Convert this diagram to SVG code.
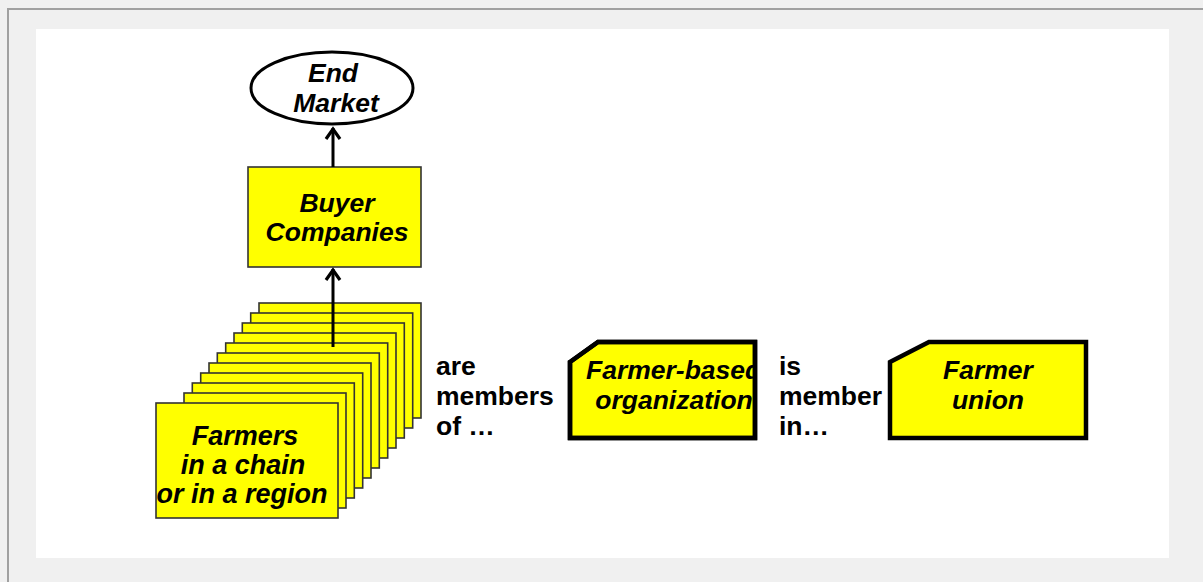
<svg xmlns="http://www.w3.org/2000/svg" width="1203" height="582" viewBox="0 0 1203 582">
<defs>
<style>
.t{font-family:"Liberation Sans",Arial,sans-serif;font-weight:bold;font-size:26.5px;fill:#000}
.i{font-style:italic}
.card{fill:#ffff00;stroke:#333;stroke-width:1.6}
.org{fill:#ffff00;stroke:#000;stroke-width:4.5;stroke-linejoin:miter}
.conn{stroke:#000;stroke-width:3;fill:none}
</style>
<marker id="ah" viewBox="0 0 16 18" refX="14" refY="9" markerWidth="16" markerHeight="18" markerUnits="userSpaceOnUse" orient="auto">
<path d="M3,2 L13,9 L3,16" fill="none" stroke="#000" stroke-width="3.2"/>
</marker>
<clipPath id="fboClip"><path d="M570,362 L598,342 L755,342 L755,438 L570,438 Z"/></clipPath>
</defs>
<rect x="0" y="0" width="1203" height="582" fill="#f0f0f0"/>
<line x1="7" y1="9" x2="1203" y2="9" stroke="#a0a0a0" stroke-width="2"/>
<line x1="8" y1="8" x2="8" y2="582" stroke="#a0a0a0" stroke-width="2"/>
<rect x="36" y="29" width="1133" height="529" fill="#fff"/>

<g id="farmers">
<rect class="card" x="259" y="303" width="162" height="115"/>
<rect class="card" x="250.7" y="313" width="162" height="115"/>
<rect class="card" x="242.3" y="323" width="162" height="115"/>
<rect class="card" x="234" y="333" width="162" height="115"/>
<rect class="card" x="225.7" y="343" width="162" height="115"/>
<rect class="card" x="217.3" y="353" width="162" height="115"/>
<rect class="card" x="209" y="363" width="162" height="115"/>
<rect class="card" x="200.7" y="373" width="162" height="115"/>
<rect class="card" x="192.3" y="383" width="162" height="115"/>
<rect class="card" x="184" y="393" width="162" height="115"/>
<rect class="card" x="156" y="403" width="182" height="115"/>
<text class="t i" text-anchor="middle" x="245" y="445" style="font-size:27px">Farmers</text>
<text class="t i" text-anchor="middle" x="243" y="474" style="font-size:27px">in a chain</text>
<text class="t i" text-anchor="middle" x="242" y="503" style="font-size:27px">or in a region</text>
</g>

<g id="buyer">
<rect class="card" x="248" y="167" width="173" height="100"/>
<text class="t i" text-anchor="middle" x="337" y="212">Buyer</text>
<text class="t i" text-anchor="middle" x="337" y="241">Companies</text>
</g>

<g id="endmarket">
<ellipse cx="332" cy="88" rx="81" ry="36" fill="#fff" stroke="#000" stroke-width="3"/>
<text class="t i" text-anchor="middle" x="333" y="82">End</text>
<text class="t i" text-anchor="middle" x="336" y="112">Market</text>
</g>

<g id="connectors">
<line class="conn" x1="333" y1="347" x2="333" y2="269" marker-end="url(#ah)"/>
<line class="conn" x1="333" y1="167" x2="333" y2="128" marker-end="url(#ah)"/>
</g>

<g id="label-members">
<text class="t" x="436" y="375">are</text>
<text class="t" x="436" y="405">members</text>
<text class="t" x="436" y="435">of …</text>
</g>

<g id="fbo">
<path class="org" d="M570,362 L598,342 L755,342 L755,438 L570,438 Z"/>
<g clip-path="url(#fboClip)">
<text class="t i" x="586" y="379">Farmer-based</text>
<text class="t i" text-anchor="middle" x="674" y="409">organization</text>
</g>
<path d="M570,362 L598,342 L755,342 L755,438 L570,438 Z" fill="none" stroke="#000" stroke-width="4.5"/>
</g>

<g id="label-member-in">
<text class="t" x="779" y="375">is</text>
<text class="t" x="779" y="405">member</text>
<text class="t" x="779" y="435">in…</text>
</g>

<g id="union">
<path class="org" d="M890,362 L929,342 L1086,342 L1086,438 L890,438 Z"/>
<text class="t i" text-anchor="middle" x="988" y="379">Farmer</text>
<text class="t i" text-anchor="middle" x="988" y="409">union</text>
</g>
</svg>
